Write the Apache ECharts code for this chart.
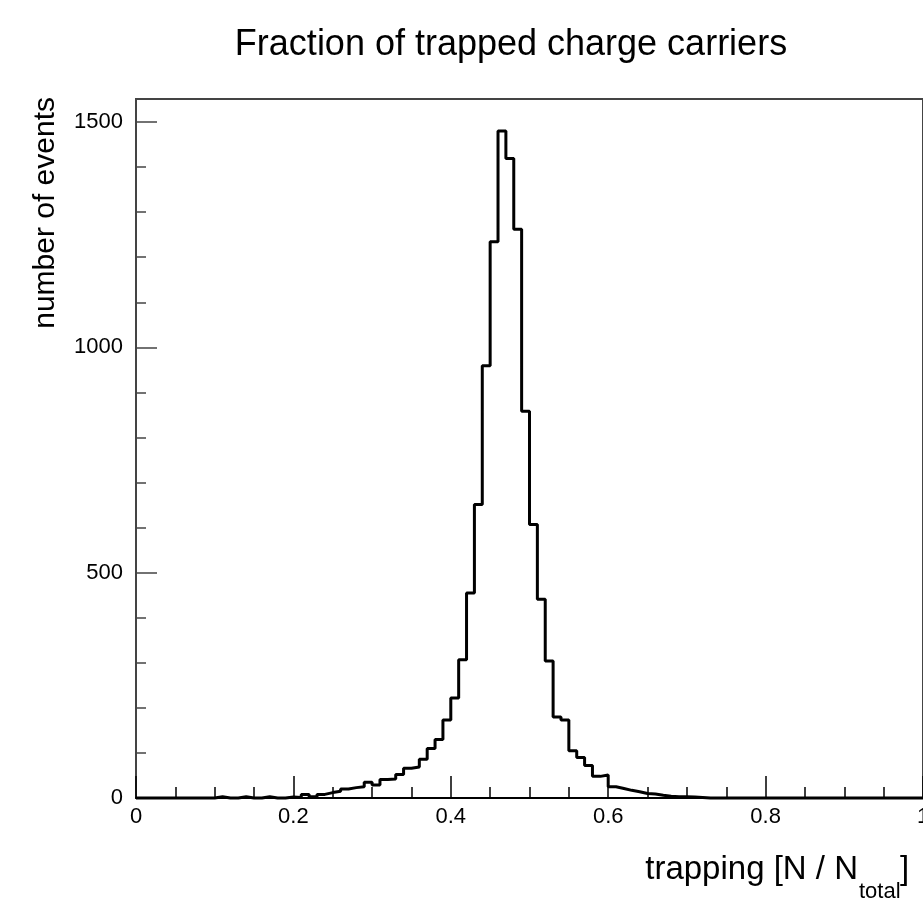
<!DOCTYPE html>
<html>
<head>
<meta charset="utf-8">
<script src="https://cdn.jsdelivr.net/npm/echarts@6/dist/echarts.min.js"></script>
<style>
  html, body { margin: 0; padding: 0; background: #fff; }
  #chart { width: 923px; height: 902px; }
</style>
</head>
<body>
<div id="chart"></div>
<script>
// histogram: 100 bins from 0 to 1, counts
var binWidth = 0.01;
var counts = [
  0, 0, 0, 0, 0, 0, 0, 0, 0, 0,
  3, 0, 0, 3, 0, 0, 3, 0, 0, 2,
  1, 8, 3, 8, 12, 15, 20, 23, 25, 35,
  29, 41, 42, 52, 66, 69, 86, 110, 130, 173,
  222, 307, 455, 651, 959, 1234, 1480, 1419, 1262, 858,
  607, 441, 304, 180, 173, 105, 90, 72, 48, 51,
  25, 21, 17, 14, 10, 9, 6, 4, 3, 3,
  2, 1, 0, 0, 0, 0, 0, 0, 0, 0,
  0, 0, 0, 0, 0, 0, 0, 0, 0, 0,
  0, 0, 0, 0, 0, 0, 0, 0, 0, 0
];
var xTicks = [0, 0.2, 0.4, 0.6, 0.8, 1];
var yTicks = [0, 500, 1000, 1500];
var titleText = 'Fraction of trapped charge carriers';
var yName = 'number of events';

var font = '"Liberation Sans", Arial, Helvetica, sans-serif';

// step line points at the bin edges
var stepData = counts.map(function (c, i) {
  return [+(i * binWidth).toFixed(2), c];
});
stepData.push([1, counts[counts.length - 1]]);

var myChart = echarts.init(document.getElementById('chart'));
var option = {
  animation: false,
  backgroundColor: '#fff',
  grid: {
    left: 136, right: 0, top: 99, bottom: 104,
    outerBoundsMode: 'none',
    show: true, borderColor: '#444', borderWidth: 2
  },
  xAxis: {
    type: 'value', min: 0, max: 1, interval: 0.2,
    axisLine: { show: true, lineStyle: { color: '#000', width: 2 } },
    axisTick: { inside: true, length: 22, lineStyle: { color: '#000', width: 1.5 } },
    minorTick: { show: true, splitNumber: 4, length: 11, lineStyle: { color: '#000', width: 1.5 } },
    splitLine: { show: false },
    axisLabel: {
      color: '#000', fontSize: 22, fontFamily: font, margin: 8,
      formatter: function (v) {
        var hit = xTicks.filter(function (t) { return Math.abs(t - v) < 1e-6; });
        return hit.length ? String(hit[0]) : '';
      }
    }
  },
  yAxis: [{
    type: 'value', min: 0, max: 1551, interval: 500,
    axisLine: { show: true, lineStyle: { color: '#444', width: 2 } },
    axisTick: { inside: true, length: 21, lineStyle: { color: '#444', width: 1.5 } },
    splitLine: { show: false },
    axisLabel: {
      color: '#000', fontSize: 22, fontFamily: font, margin: 13, showMaxLabel: false,
      formatter: function (v) {
        return yTicks.indexOf(v) >= 0 ? String(v) : '';
      }
    }
  }, {
    // minor ticks every 100
    type: 'value', min: 0, max: 1551, interval: 100, position: 'left',
    axisLine: { show: false },
    axisTick: { inside: true, length: 10, lineStyle: { color: '#444', width: 1.5 } },
    axisLabel: { show: false },
    splitLine: { show: false }
  }],
  series: [{
    type: 'line',
    step: 'end',
    symbol: 'none',
    clip: false,
    data: stepData,
    lineStyle: { color: '#000', width: 3 }
  }],
  graphic: [{
    type: 'text', x: 511, y: 45,
    style: { text: titleText, font: '36px ' + font, fill: '#000', textAlign: 'center', textVerticalAlign: 'middle' }
  }, {
    type: 'text', x: 46, y: 97, rotation: Math.PI / 2,
    style: { text: yName, font: '30px ' + font, fill: '#000', textAlign: 'right', textVerticalAlign: 'middle' }
  }, {
    type: 'text', x: 858, y: 870,
    style: { text: 'trapping [N / N', font: '33px ' + font, fill: '#000', textAlign: 'right', textVerticalAlign: 'middle' }
  }, {
    type: 'text', x: 859, y: 892,
    style: { text: 'total', font: '22px ' + font, fill: '#000', textAlign: 'left', textVerticalAlign: 'middle' }
  }, {
    type: 'text', x: 900, y: 870,
    style: { text: ']', font: '33px ' + font, fill: '#000', textAlign: 'left', textVerticalAlign: 'middle' }
  }]
};
myChart.setOption(option);
</script>
</body>
</html>
